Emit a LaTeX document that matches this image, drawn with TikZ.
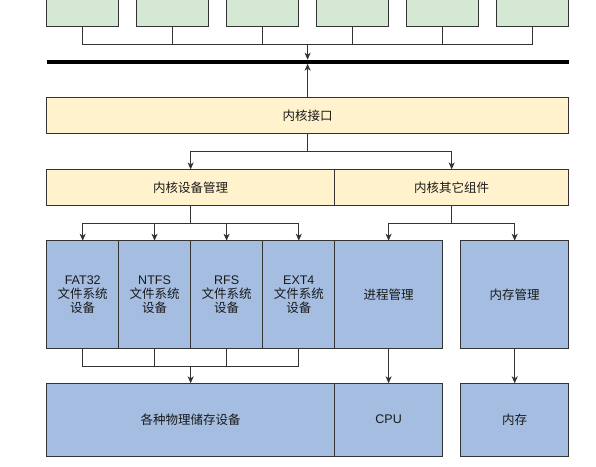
\documentclass[tikz,border=0pt]{standalone}
\usepackage{fontspec}
\setmainfont{Liberation Sans}
\newfontfamily\cjk{Noto Sans CJK SC}
\usetikzlibrary{arrows.meta}
\definecolor{gfill}{HTML}{D5E8D4}
\definecolor{yfill}{HTML}{FFF2CC}
\definecolor{bfill}{HTML}{A4BDE1}
\definecolor{edge}{HTML}{333333}
\definecolor{txt}{HTML}{1A1A1A}
\tikzset{
  box/.style={draw=edge, line width=1pt, inner sep=0pt, outer sep=0pt, align=center,
    text=txt, font={\fontsize{12.5}{14.2}\selectfont}},
  gbox/.style={box, fill=gfill, minimum width=72pt, minimum height=52pt},
  ybox/.style={box, fill=yfill, minimum height=35.8pt},
  bbox/.style={box, fill=bfill},
  conn/.style={draw=edge, line width=1pt},
  arr/.style={conn, -{Stealth[length=7pt,width=6pt,inset=2pt]}},
}
\begin{document}
\begin{tikzpicture}[x=1pt,y=-1pt]
\useasboundingbox (0,0) rectangle (596,466);
% top green boxes
\node[gbox] (g1) at (82.7,0) {};
\node[gbox] (g2) at (172.5,0) {};
\node[gbox] (g3) at (262.7,0) {};
\node[gbox] (g4) at (352.7,0) {};
\node[gbox] (g5) at (442.7,0) {};
\node[gbox] (g6) at (532.5,0) {};
% bus
\node[fill=black, inner sep=0pt, outer sep=0pt, minimum width=522pt, minimum height=4pt] (bus) at (307.6,61.7) {};
% kernel interface
\node[ybox, minimum width=522pt] (ki) at (307.6,115.5) {{\cjk 内核接口}};
% second row
\node[ybox, minimum width=288.1pt] (dev) at (190.65,187.3) {{\cjk 内核设备管理}};
\node[ybox, minimum width=233.9pt] (oth) at (451.65,187.3) {{\cjk 内核其它组件}};
% blue row
\node[bbox, minimum width=72.2pt, minimum height=107.6pt] (fat) at (82.7,294.5) {FAT32\\{\cjk 文件系统}\\{\cjk 设备}};
\node[bbox, minimum width=71.5pt, minimum height=107.6pt] (ntfs) at (154.55,294.5) {NTFS\\{\cjk 文件系统}\\{\cjk 设备}};
\node[bbox, minimum width=72.6pt, minimum height=107.6pt] (rfs) at (226.6,294.5) {RFS\\{\cjk 文件系统}\\{\cjk 设备}};
\node[bbox, minimum width=71.8pt, minimum height=107.6pt] (ext) at (298.8,294.5) {EXT4\\{\cjk 文件系统}\\{\cjk 设备}};
\node[bbox, minimum width=107.8pt, minimum height=107.6pt] (proc) at (388.6,294.5) {{\cjk 进程管理}};
\node[bbox, minimum width=107.8pt, minimum height=107.6pt] (memm) at (514.7,294.5) {{\cjk 内存管理}};
% bottom row
\node[bbox, minimum width=288.1pt, minimum height=72.7pt] (stor) at (190.65,419.65) {{\cjk 各种物理储存设备}};
\node[bbox, minimum width=107.8pt, minimum height=72.7pt] (cpu) at (388.6,419.65) {CPU};
\node[bbox, minimum width=107.8pt, minimum height=72.7pt] (mem) at (514.7,419.65) {{\cjk 内存}};
% connectors: green -> bus
\coordinate (jt) at (307.6,44);
\foreach \g in {g1,g2,g3,g4,g5,g6} \draw[conn] (\g.south) |- (jt);
\draw[arr] (jt) -- (jt |- bus.north);
\draw[arr] (ki.north) -- (bus.south);
% kernel interface -> row 2
\coordinate (kb) at (307.6,151);
\draw[arr] (ki.south) -- (kb) -| (dev.north);
\draw[arr] (kb) -| (oth.north);
% dev -> fs
\coordinate (db) at (190.65,223.3);
\draw[conn] (dev.south) -- (db);
\foreach \f in {fat,ntfs,rfs,ext} \draw[arr] (db) -| (\f.north);
% other -> proc/mem
\coordinate (ob) at (451.65,223.3);
\draw[conn] (oth.south) -- (ob);
\draw[arr] (ob) -| (proc.north);
\draw[arr] (ob) -| (memm.north);
% fs -> storage
\coordinate (sb) at (190.65,366);
\foreach \f in {fat,ntfs,rfs,ext} \draw[conn] (\f.south) |- (sb);
\draw[arr] (sb) -- (stor.north);
\draw[arr] (proc.south) -- (cpu.north);
\draw[arr] (memm.south) -- (mem.north);
\end{tikzpicture}
\end{document}
